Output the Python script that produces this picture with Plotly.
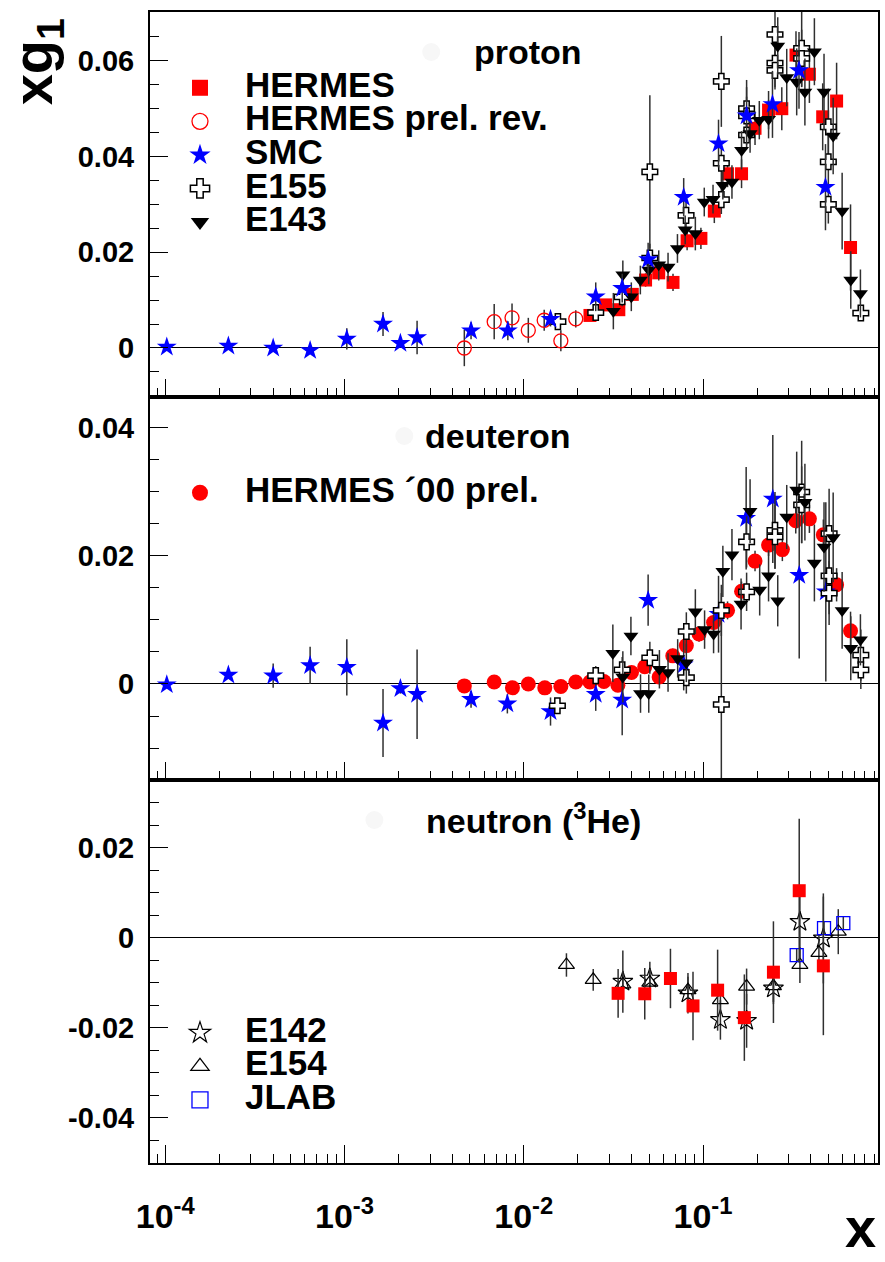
import numpy as np
import plotly.graph_objects as go

# ---------------- data: proton ----------------
p_hermes_x = [0.0234, 0.0286, 0.0339, 0.0403, 0.0478, 0.0566, 0.068, 0.0815, 0.0973, 0.1156,
              0.137, 0.164, 0.195, 0.232, 0.275, 0.330, 0.392, 0.465, 0.556, 0.665]
p_hermes_y = [0.0068, 0.0090, 0.0080, 0.0112, 0.0142, 0.0157, 0.0137, 0.0224, 0.0229, 0.0286,
              0.0364, 0.0364, 0.0459, 0.0497, 0.0500, 0.0612, 0.0572, 0.0483, 0.0516, 0.0210]
p_hermes_e = [0.0008, 0.0009, 0.0010, 0.0012, 0.0014, 0.0016, 0.0018, 0.0020, 0.0022, 0.0025,
              0.0028, 0.0030, 0.0035, 0.0040, 0.0045, 0.0050, 0.0060, 0.0070, 0.0080, 0.0090]

p_prel_x = [0.00466, 0.00684, 0.0086, 0.0106, 0.0130, 0.0161, 0.0195]
p_prel_y = [0.0000, 0.0055, 0.0063, 0.0037, 0.0058, 0.0015, 0.0061]
p_prel_e = [0.0038, 0.0037, 0.0030, 0.0026, 0.0022, 0.0022, 0.0018]

p_smc_x = [1.02e-4, 2.25e-4, 4.0e-4, 6.43e-4, 1.03e-3, 1.64e-3, 2.05e-3, 2.54e-3, 5.08e-3, 8.15e-3,
           1.41e-2, 2.52e-2, 3.54e-2, 4.94e-2, 7.8e-2, 0.122, 0.175, 0.244, 0.343, 0.482]
p_smc_y = [0.0002, 0.0004, 0.0000, -0.0005, 0.0019, 0.0050, 0.0010, 0.0022, 0.0036, 0.0036,
           0.0060, 0.0107, 0.0125, 0.0185, 0.0315, 0.0427, 0.0485, 0.0509, 0.0580, 0.0336]
p_smc_e = [0.0002, 0.0003, 0.0004, 0.0005, 0.0022, 0.0025, 0.0009, 0.0035, 0.0018, 0.0020,
           0.0015, 0.0030, 0.0030, 0.0035, 0.0040, 0.0050, 0.0060, 0.0070, 0.0080, 0.0090]

p_e155_x = [0.0155, 0.0252, 0.0354, 0.0505, 0.0505, 0.0804, 0.1265, 0.1265, 0.1265, 0.175, 0.175,
            0.175, 0.252, 0.252, 0.252, 0.355, 0.355, 0.50, 0.50, 0.50, 0.759]
p_e155_y = [0.0055, 0.0074, 0.0107, 0.0368, 0.0188, 0.0277, 0.0557, 0.0386, 0.0310, 0.0500, 0.0485,
            0.0445, 0.0655, 0.0595, 0.0580, 0.0626, 0.0605, 0.0462, 0.0389, 0.0300, 0.0073]
p_e155_e = [0.0012, 0.0015, 0.0020, 0.0160, 0.0030, 0.0030, 0.0095, 0.0040, 0.0030, 0.0060, 0.0040,
            0.0030, 0.0080, 0.0050, 0.0040, 0.0080, 0.0060, 0.0080, 0.0060, 0.0040, 0.0015]

p_e143_x = [0.0316, 0.0357, 0.0398, 0.0447, 0.0498, 0.0566, 0.0638, 0.072, 0.0795, 0.0906, 0.1016,
            0.1137, 0.129, 0.145, 0.164, 0.183, 0.206, 0.232, 0.261, 0.293, 0.333, 0.370, 0.418,
            0.473, 0.532, 0.597, 0.667, 0.755]
p_e143_y = [0.0077, 0.0153, 0.0107, 0.0142, 0.0163, 0.0174, 0.0169, 0.0208, 0.0247, 0.0239, 0.0305,
            0.0311, 0.0340, 0.0347, 0.0413, 0.0448, 0.0476, 0.0478, 0.0631, 0.0565, 0.0556, 0.0535,
            0.0619, 0.0535, 0.0443, 0.0286, 0.0142, 0.0114]
p_e143_e = [0.0038, 0.0030, 0.0030, 0.0030, 0.0030, 0.0030, 0.0030, 0.0030, 0.0030, 0.0035, 0.0030,
            0.0030, 0.0030, 0.0035, 0.0040, 0.0040, 0.0040, 0.0040, 0.0060, 0.0060, 0.0070, 0.0070,
            0.0070, 0.0080, 0.0080, 0.0080, 0.0060, 0.0050]

# ---------------- data: deuteron ----------------
d_hermes_x = [0.00466, 0.00684, 0.00865, 0.0106, 0.0131, 0.0161, 0.0195, 0.0234, 0.0280, 0.0335,
              0.0399, 0.0473, 0.0569, 0.0678, 0.0807, 0.095, 0.1145, 0.137, 0.164, 0.195, 0.232,
              0.277, 0.329, 0.392, 0.469, 0.556, 0.665]
d_hermes_y = [-0.0003, 0.0003, -0.0006, 0.0000, -0.0006, -0.0004, 0.0003, 0.0003, 0.0004, -0.0002,
              0.0018, 0.0027, 0.0011, 0.0044, 0.0060, 0.0078, 0.0096, 0.0115, 0.0145, 0.0192, 0.0217,
              0.0210, 0.0255, 0.0258, 0.0233, 0.0155, 0.0083]
d_hermes_e = [0.0008, 0.0008, 0.0008, 0.0008, 0.0008, 0.0008, 0.0008, 0.0008, 0.0008, 0.0009,
              0.0009, 0.0010, 0.0010, 0.0011, 0.0012, 0.0012, 0.0013, 0.0014, 0.0015, 0.0016, 0.0017,
              0.0018, 0.0020, 0.0022, 0.0024, 0.0026, 0.0030]

d_smc_x = [1.02e-4, 2.25e-4, 4.0e-4, 6.43e-4, 1.03e-3, 1.64e-3, 2.05e-3, 2.54e-3, 5.08e-3, 8.1e-3,
           1.41e-2, 2.52e-2, 3.54e-2, 4.94e-2, 7.8e-2, 0.122, 0.174, 0.245, 0.344, 0.484]
d_smc_y = [-0.0001, 0.0014, 0.0013, 0.0029, 0.0026, -0.0061, -0.0007, -0.0016, -0.0024, -0.0031,
           -0.0043, -0.0016, -0.0025, 0.0131, 0.0030, 0.0109, 0.0259, 0.0289, 0.0170, 0.0144]
d_smc_e = [0.0003, 0.0004, 0.0019, 0.0029, 0.0044, 0.0053, 0.0008, 0.0070, 0.0013, 0.0015,
           0.0022, 0.0026, 0.0055, 0.0040, 0.0040, 0.0060, 0.0080, 0.0100, 0.0130, 0.0140]

d_e155_x = [0.0154, 0.0252, 0.0354, 0.0505, 0.0807, 0.0807, 0.1265, 0.1265, 0.175, 0.175, 0.252,
            0.252, 0.355, 0.355, 0.505, 0.505, 0.505, 0.759, 0.759]
d_e155_y = [-0.0034, 0.0013, 0.0022, 0.0041, 0.0082, 0.0010, 0.0115, -0.0032, 0.0222, 0.0144, 0.0240,
            0.0230, 0.0300, 0.0280, 0.0235, 0.0169, 0.0142, 0.0045, 0.0022]
d_e155_e = [0.0012, 0.0015, 0.0020, 0.0025, 0.0030, 0.0025, 0.0040, 0.0174, 0.0040, 0.0030, 0.0060,
            0.0050, 0.0080, 0.0060, 0.0070, 0.0060, 0.0050, 0.0040, 0.0030]

d_e143_x = [0.0314, 0.0357, 0.0396, 0.0448, 0.0498, 0.0571, 0.0638, 0.0722, 0.0807, 0.0906, 0.102,
            0.1145, 0.129, 0.145, 0.163, 0.183, 0.207, 0.232, 0.261, 0.293, 0.333, 0.370, 0.418,
            0.473, 0.532, 0.597, 0.667, 0.755]
d_e143_y = [0.0048, 0.0011, 0.0075, -0.0015, -0.0015, 0.0023, 0.0018, 0.0040, 0.0033, 0.0113, 0.0085,
            0.0078, 0.0176, 0.0202, 0.0125, 0.0270, 0.0147, 0.0169, 0.0130, 0.0261, 0.0303, 0.0284,
            0.0189, 0.0214, 0.0229, 0.0115, 0.0056, 0.0069]
d_e143_e = [0.0045, 0.0040, 0.0030, 0.0030, 0.0030, 0.0030, 0.0030, 0.0030, 0.0030, 0.0035, 0.0030,
            0.0030, 0.0040, 0.0040, 0.0040, 0.0050, 0.0040, 0.0040, 0.0040, 0.0050, 0.0060, 0.0060,
            0.0060, 0.0070, 0.0070, 0.0060, 0.0050, 0.0040]

# ---------------- data: neutron (3He) ----------------
n_hermes_x = [0.0336, 0.0473, 0.0658, 0.0879, 0.1206, 0.170, 0.247, 0.344, 0.469]
n_hermes_y = [-0.0123, -0.0124, -0.0090, -0.0151, -0.0116, -0.0177, -0.0076, 0.0105, -0.0062]
n_hermes_e = [0.0054, 0.0057, 0.0066, 0.0076, 0.0090, 0.0096, 0.0113, 0.0160, 0.0154]

n_e142_x = [0.0357, 0.0505, 0.0824, 0.125, 0.175, 0.247, 0.347, 0.469]
n_e142_y = [-0.0097, -0.0090, -0.0123, -0.0182, -0.0184, -0.0112, 0.0036, -0.0001]
n_e142_e = [0.0069, 0.0037, 0.0045, 0.0044, 0.0060, 0.0030, 0.0080, 0.0100]

n_e154_x = [0.0173, 0.0244, 0.0357, 0.0505, 0.0824, 0.125, 0.175, 0.247, 0.347, 0.443, 0.568]
n_e154_y = [-0.0060, -0.0093, -0.0103, -0.0099, -0.0116, -0.0138, -0.0108, -0.0107, -0.0060, -0.0033, 0.0014]
n_e154_e = [0.0026, 0.0024, 0.0030, 0.0030, 0.0030, 0.0030, 0.0040, 0.0040, 0.0040, 0.0040, 0.0050]

n_jlab_x = [0.333, 0.473, 0.606]
n_jlab_y = [-0.0038, 0.0022, 0.0033]
n_jlab_e = [0.0015, 0.0015, 0.0015]

# ---------------- axis settings ----------------
x_major = [1e-4, 1e-3, 1e-2, 1e-1]
x_major_text = ["10<sup>-4</sup>", "10<sup>-3</sup>", "10<sup>-2</sup>", "10<sup>-1</sup>"]
x_minor = [m * 10.0 ** k for k in range(-5, 0) for m in range(2, 10)]

p_yticks = [0, 0.02, 0.04, 0.06]
p_ytext = ["0", "0.02", "0.04", "0.06"]
d_yticks = [0, 0.02, 0.04]
d_ytext = ["0", "0.02", "0.04"]
n_yticks = [-0.04, -0.02, 0, 0.02]
n_ytext = ["-0.04", "-0.02", "0", "0.02"]

RED = "#ff0000"
BLUE = "#0000ff"
BLACK = "#000000"
FONT = "Liberation Sans, Arial, Helvetica, sans-serif"
LEG_TXT = 35


def lname(t):
    return f'<span style="font-size:{LEG_TXT}px">{t}</span>'


fig = go.Figure()


def style(symbol, color, size, lw, lcolor):
    return dict(symbol=symbol, color=color, size=size,
                line=dict(width=lw, color=lcolor if lcolor else color))


def add(x, y, e, symbol, color, size, row, lw=0, lcolor=None):
    ax = "" if row == 1 else str(row)
    fig.add_trace(go.Scatter(
        x=x, y=y, mode="markers", xaxis="x" + ax, yaxis="y" + ax,
        marker=style(symbol, color, size, lw, lcolor),
        error_y=dict(type="data", array=e, thickness=1.5, width=0, color="#303030"),
        showlegend=False, hoverinfo="x+y",
    ))


def key(name, symbol, color, legend, rank, lw=0, lcolor=None, size=22):
    # legend key only: a single null point, nothing is drawn in the plot area
    fig.add_trace(go.Scatter(
        x=[None], y=[None], mode="markers", name=lname(name),
        marker=style(symbol, color, size, lw, lcolor),
        showlegend=True, legend=legend, legendrank=rank, hoverinfo="skip",
    ))


# proton
add(p_hermes_x, p_hermes_y, p_hermes_e, "square", RED, 13, 1)
add(p_prel_x, p_prel_y, p_prel_e, "circle-open", RED, 14, 1, lw=1.3)
add(p_e155_x, p_e155_y, p_e155_e, "cross", "white", 13, 1, lw=1.5, lcolor=BLACK)
add(p_e143_x, p_e143_y, p_e143_e, "triangle-down", BLACK, 13, 1)
add(p_smc_x, p_smc_y, p_smc_e, "star", BLUE, 15, 1)

# deuteron
add(d_hermes_x, d_hermes_y, d_hermes_e, "circle", RED, 15, 2)
add(d_smc_x, d_smc_y, d_smc_e, "star", BLUE, 15, 2)
add(d_e155_x, d_e155_y, d_e155_e, "cross", "white", 13, 2, lw=1.5, lcolor=BLACK)
add(d_e143_x, d_e143_y, d_e143_e, "triangle-down", BLACK, 13, 2)

# neutron
add(n_e142_x, n_e142_y, n_e142_e, "star-open", BLACK, 15, 3, lw=1.2)
add(n_e154_x, n_e154_y, n_e154_e, "triangle-up-open", BLACK, 14, 3, lw=1.2)
add(n_jlab_x, n_jlab_y, n_jlab_e, "square-open", BLUE, 13, 3, lw=1.3)
add(n_hermes_x, n_hermes_y, n_hermes_e, "square", RED, 13, 3)

# legend keys
key("HERMES", "square", RED, "legend", 1)
key("HERMES prel. rev.", "circle-open", RED, "legend", 2, lw=1.3)
key("SMC", "star", BLUE, "legend", 3)
key("E155", "cross", "white", "legend", 4, lw=1.5, lcolor=BLACK)
key("E143", "triangle-down", BLACK, "legend", 5)
key("HERMES \u00b400 prel.", "circle", RED, "legend2", 1)
key("E142", "star-open", BLACK, "legend3", 1, lw=1.2)
key("E154", "triangle-up-open", BLACK, "legend3", 2, lw=1.2)
key("JLAB", "square-open", BLUE, "legend3", 3, lw=1.3)

# ---------------- layout ----------------
L, R, T, B = 150, 5, 12, 99
W, H = 885, 1262
PW, PH = W - L - R, H - T - B
y_p3 = (1163 - 780) / PH
y_p2 = (1163 - 397) / PH

XR = [-4.085, -0.024]
TICKFONT = dict(family=FONT, size=29, color="black", weight="bold")


def xax(anchor, show):
    return dict(type="log", range=XR, anchor=anchor,
                showline=True, linecolor="black", linewidth=2, mirror=True,
                ticks="inside", ticklen=18, tickwidth=1, tickcolor="black",
                tickmode="array", tickvals=x_major, ticktext=x_major_text,
                showticklabels=show, tickfont=dict(TICKFONT, size=34), ticklabelstandoff=22,
                minor=dict(tickmode="array", tickvals=x_minor, ticks="inside", ticklen=9,
                           tickwidth=1, tickcolor="black", showgrid=False),
                showgrid=False, zeroline=False)


def yax(domain, rng, anchor, major, labels, minor_vals):
    return dict(domain=domain, range=rng, anchor=anchor,
                showline=True, linecolor="black", linewidth=2, mirror=True,
                ticks="inside", ticklen=18, tickwidth=1, tickcolor="black",
                tickmode="array", tickvals=major, ticktext=labels, tickfont=TICKFONT,
                ticklabelstandoff=8,
                minor=dict(tickmode="array", tickvals=minor_vals, ticks="inside", ticklen=9,
                           tickwidth=1, tickcolor="black", showgrid=False),
                showgrid=False, zeroline=True, zerolinecolor="black", zerolinewidth=1.2)


def minors(a, b):
    return [round(v, 4) for v in np.arange(a, b + 1e-9, 0.005)]


def px_x(px):
    return (px - L) / PW


def px_y(py):
    return (1163 - py) / PH


LEGCOMMON = dict(bgcolor="rgba(0,0,0,0)", borderwidth=0, itemwidth=80,
                 font=dict(family=FONT, size=23.5, color="black", weight="bold"),
                 xanchor="left", yanchor="top", traceorder="normal", itemclick=False)

title_font = dict(family=FONT, size=34, color="black", weight="bold")

fig.update_layout(
    width=W, height=H, autosize=False,
    margin=dict(l=L, r=R, t=T, b=B, pad=0),
    paper_bgcolor="white", plot_bgcolor="white",
    xaxis=xax("y", False),
    xaxis2=xax("y2", False),
    xaxis3=xax("y3", True),
    yaxis=yax([y_p2, 1.0], [-0.01024, 0.0702], "x", p_yticks, p_ytext, minors(-0.01, 0.07)),
    yaxis2=yax([y_p3, y_p2], [-0.0150, 0.04484], "x2", d_yticks, d_ytext, minors(-0.015, 0.045)),
    yaxis3=yax([0.0, y_p3], [-0.0500, 0.0351], "x3", n_yticks, n_ytext, minors(-0.05, 0.035)),
    legend=dict(LEGCOMMON, x=px_x(155), y=px_y(66)),
    legend2=dict(LEGCOMMON, x=px_x(155), y=px_y(471)),
    legend3=dict(LEGCOMMON, x=px_x(155), y=px_y(1011)),
    showlegend=True,
    annotations=[
        dict(text="proton", x=px_x(529), y=px_y(52), xref="paper", yref="paper",
             showarrow=False, font=title_font, xanchor="center", yanchor="middle"),
        dict(text="deuteron", x=px_x(498), y=px_y(436), xref="paper", yref="paper",
             showarrow=False, font=title_font, xanchor="center", yanchor="middle"),
        dict(text="neutron (<sup>3</sup>He)", x=px_x(535), y=px_y(818), xref="paper", yref="paper",
             showarrow=False, font=title_font, xanchor="center", yanchor="middle"),
        dict(text="xg<sub>1</sub>", x=px_x(36), y=px_y(62), xref="paper", yref="paper",
             showarrow=False, textangle=-90, xanchor="center", yanchor="middle",
             font=dict(family=FONT, size=56, color="black", weight="bold")),
        dict(text="x", x=px_x(880), y=px_y(1261), xref="paper", yref="paper",
             showarrow=False, xanchor="right", yanchor="bottom",
             font=dict(family=FONT, size=56, color="black", weight="bold")),
    ],
    shapes=[
        dict(type="circle", xref="paper", yref="paper", layer="below",
             x0=px_x(423), x1=px_x(441), y0=px_y(61), y1=px_y(43),
             fillcolor="#f7f7f7", line=dict(width=0)),
        dict(type="circle", xref="paper", yref="paper", layer="below",
             x0=px_x(396), x1=px_x(414), y0=px_y(445), y1=px_y(427),
             fillcolor="#f7f7f7", line=dict(width=0)),
        dict(type="circle", xref="paper", yref="paper", layer="below",
             x0=px_x(366), x1=px_x(384), y0=px_y(829), y1=px_y(811),
             fillcolor="#f7f7f7", line=dict(width=0)),
    ],
)

fig.write_html("out.html")
